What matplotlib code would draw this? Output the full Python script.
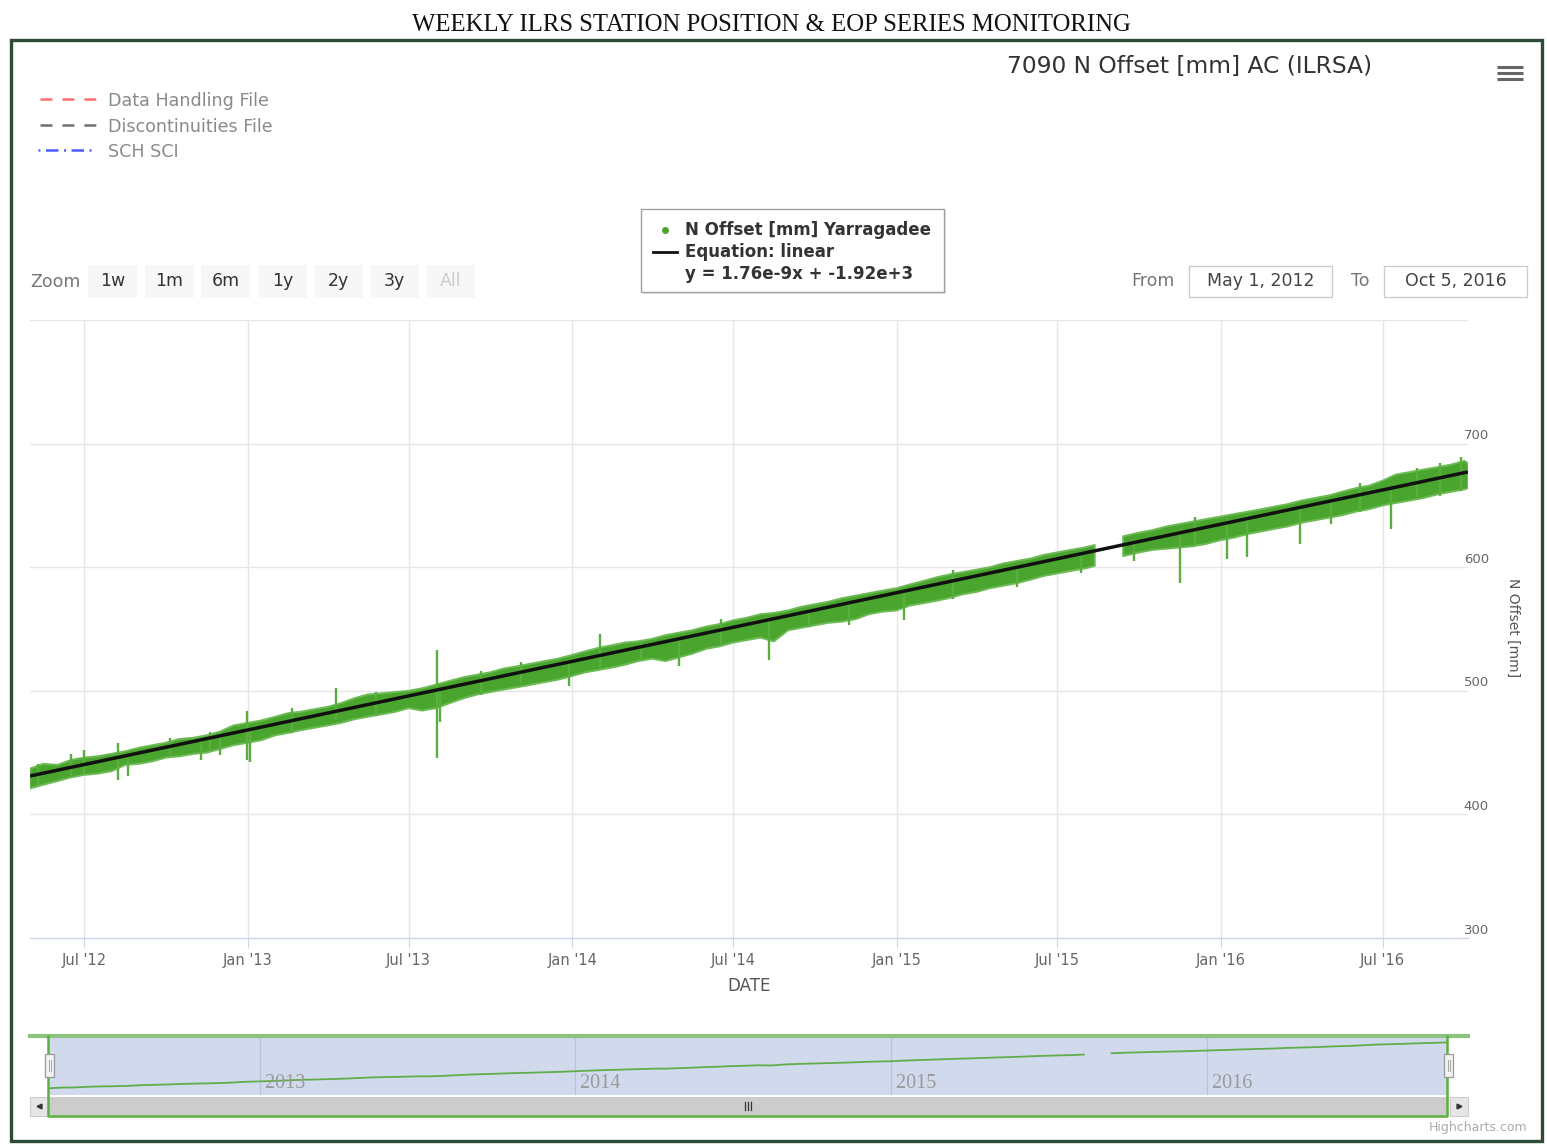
import matplotlib
matplotlib.use("Agg")
import matplotlib.pyplot as plt
import matplotlib.dates as mdates
import matplotlib.transforms as mtransforms
from matplotlib.patches import Rectangle
import numpy as np
import pandas as pd

plt.rcParams["lines.scale_dashes"] = False

# ---------------- data ----------------
page_title = "WEEKLY ILRS STATION POSITION & EOP SERIES MONITORING"
chart_title = "7090 N Offset [mm] AC (ILRSA)"
series_name = "N Offset [mm] Yarragadee"
fit_name = "Equation: linear"
fit_text = "y = 1.76e-9x + -1.92e+3"
fit_slope = 1.76e-9          # mm per millisecond
fit_intercept = -1.92e3      # mm

range_start = "2012-05-01"
range_end = "2016-10-05"

band_dates = [
    "2012-05-01", "2012-05-16", "2012-06-01", "2012-06-16", "2012-07-01", "2012-07-16",
    "2012-08-01", "2012-08-16", "2012-09-01", "2012-09-16", "2012-10-01", "2012-10-16",
    "2012-11-01", "2012-11-16", "2012-12-01", "2012-12-16",
    "2013-01-01", "2013-01-16", "2013-02-01", "2013-02-16", "2013-03-01", "2013-03-16",
    "2013-04-01", "2013-04-16", "2013-05-01", "2013-05-16", "2013-06-01", "2013-06-16",
    "2013-07-01", "2013-07-16", "2013-08-01", "2013-08-16", "2013-09-01", "2013-09-16",
    "2013-10-01", "2013-10-16", "2013-11-01", "2013-11-16", "2013-12-01", "2013-12-16",
    "2014-01-01", "2014-01-16", "2014-02-01", "2014-02-16", "2014-03-01", "2014-03-16",
    "2014-04-01", "2014-04-16", "2014-05-01", "2014-05-16", "2014-06-01", "2014-06-16",
    "2014-07-01", "2014-07-16", "2014-08-01", "2014-08-16", "2014-09-01", "2014-09-16",
    "2014-10-01", "2014-10-16", "2014-11-01", "2014-11-16", "2014-12-01", "2014-12-16",
    "2015-01-01", "2015-01-16", "2015-02-01", "2015-02-16", "2015-03-01", "2015-03-16",
    "2015-04-01", "2015-04-16", "2015-05-01", "2015-05-16", "2015-06-01", "2015-06-16",
    "2015-07-01", "2015-07-16", "2015-08-01", "2015-08-12", "2015-08-20", "2015-09-13",
    "2015-10-01", "2015-10-16", "2015-11-01", "2015-11-16", "2015-12-01", "2015-12-16",
    "2016-01-01", "2016-01-16", "2016-02-01", "2016-02-16", "2016-03-01", "2016-03-16",
    "2016-04-01", "2016-04-16", "2016-05-01", "2016-05-16", "2016-06-01", "2016-06-16",
    "2016-07-01", "2016-07-16", "2016-08-01", "2016-08-16", "2016-09-01", "2016-09-16",
    "2016-10-01", "2016-10-05",
]
nan = float("nan")
band_hi = [
    437, 441, 440, 444, 446, 447, 449, 451, 454, 456, 458, 461, 462, 464, 467, 472,
    474, 476, 479, 482, 483, 485, 487, 490, 494, 497, 498, 499, 500, 502, 505, 508,
    511, 513, 515, 518, 520, 522, 524, 526,
    529, 532, 535, 537, 539, 540, 542, 545, 547, 549, 552, 554, 557, 559, 562, 563,
    565, 568, 570, 572, 575, 577, 579, 581,
    583, 586, 589, 592, 594, 596, 598, 600, 603, 605, 607, 610, 612, 614, 616, 618,
    nan, 625, 628, 630, 633, 635, 637, 639,
    641, 643, 645, 647, 649, 651, 654, 656, 658, 661, 664, 666, 670, 675, 677, 679,
    681, 683, 686, 684,
]
band_lo = [
    421, 424, 427, 430, 432, 433, 435, 440, 441, 443, 446, 447, 449, 450, 453, 456,
    458, 460, 464, 466, 468, 470, 472, 474, 477, 479, 481, 483, 486, 484, 486, 490,
    494, 497, 499, 501, 503, 505, 507, 509,
    512, 515, 517, 519, 521, 524, 526, 524, 527, 530, 534, 536, 539, 541, 543, 540,
    549, 551, 553, 555, 556, 558, 562, 564,
    565, 569, 571, 573, 575, 578, 580, 583, 585, 587, 590, 593, 595, 597, 599, 601,
    nan, 609, 612, 614, 615, 616, 617, 619,
    622, 624, 627, 629, 631, 633, 636, 638, 640, 642, 645, 647, 650, 652, 654, 656,
    659, 661, 663, 664,
]

# short excursions of the daily solutions
spike_dates = [
    "2012-05-10", "2012-06-16", "2012-07-01", "2012-08-08", "2012-08-19", "2012-10-06",
    "2012-11-09", "2012-11-20", "2012-12-01", "2012-12-31", "2013-01-04", "2013-02-20",
    "2013-04-10", "2013-05-25", "2013-08-02", "2013-08-05", "2013-09-20", "2013-11-05",
    "2013-12-28", "2014-02-01", "2014-03-20", "2014-05-01", "2014-06-18", "2014-08-11",
    "2014-09-25", "2014-11-08", "2015-01-09", "2015-03-05", "2015-05-17", "2015-07-27",
    "2015-09-25", "2015-11-16", "2015-12-03", "2016-01-08", "2016-01-30", "2016-03-30",
    "2016-05-04", "2016-06-05", "2016-07-10", "2016-08-09", "2016-09-04", "2016-09-27",
]
spike_lo = [424, 430, 433, 428, 431, 448, 444, 452, 448, 444, 442, 466,
            476, 480, 446, 475, 497, 506, 504, 519, 525, 520, 538, 525,
            552, 553, 557, 574, 584, 595, 605, 587, 618, 607, 608, 619,
            635, 645, 631, 657, 658, 662]
spike_hi = [441, 449, 452, 458, 446, 462, 460, 467, 466, 484, 470, 486,
            502, 499, 533, 500, 516, 523, 524, 546, 540, 543, 558, 556,
            566, 572, 580, 598, 600, 612, 622, 628, 641, 640, 642, 648,
            654, 668, 662, 680, 684, 689]

y_ticks = [300, 400, 500, 600, 700, 800]
y_tick_labels = ["300", "400", "500", "600", "700", ""]
nav_years = ["2013", "2014", "2015", "2016"]

legend_items = ["Data Handling File", "Discontinuities File", "SCH SCI"]
zoom_buttons = ["1w", "1m", "6m", "1y", "2y", "3y", "All"]

# ---------------- figure ----------------
W, H = 1547, 1146
fig = plt.figure(figsize=(W / 100, H / 100), dpi=100)
fig.patch.set_facecolor("white")

ov = fig.add_axes([0, 0, 1, 1], zorder=0)
ov.set_xlim(0, W)
ov.set_ylim(H, 0)
ov.axis("off")


def px_axes(x0, y0, x1, y1, **kw):
    return fig.add_axes([x0 / W, 1 - y1 / H, (x1 - x0) / W, (y1 - y0) / H], **kw)


GREEN = "#4aa52e"

# page heading and frame
ov.text(771, 25, page_title, ha="center", va="center", fontsize=17.8,
        family="Liberation Serif", color="#111111")
ov.add_patch(Rectangle((11, 40), 1531, 1101, fill=False, ec="#2e4b36", lw=2.4))

# chart title and menu icon
ov.text(1190, 67, chart_title, ha="center", va="center", fontsize=16.8, color="#333333")
for yy in (67, 73, 79):
    ov.plot([1497, 1523], [yy, yy], color="#666666", lw=2.2, solid_capstyle="butt")

# top-left legend of auxiliary files
leg_y = [99, 125, 150]
ov.plot([40, 96], [leg_y[0]] * 2, color="#ff6f6f", lw=1.8, dashes=(8.6, 7.2))
ov.plot([40, 96], [leg_y[1]] * 2, color="#707070", lw=1.8, dashes=(8.6, 7.2))
ov.plot([38, 96], [leg_y[2]] * 2, color="#4b5cff", lw=1.8, dashes=(1.4, 4.0, 9.0, 4.0))
for yy, lab in zip(leg_y, legend_items):
    ov.text(108, yy + 2, lab, ha="left", va="center", fontsize=12.6, color="#8a8a8a")

# series legend box
ov.add_patch(Rectangle((643, 211), 303, 83, fc="#e8e8e8", ec="none"))
ov.add_patch(Rectangle((641, 209), 303, 83, fc="white", ec="#a0a0a0", lw=1.0))
ov.plot([665], [230], "o", color=GREEN, ms=4)
ov.plot([653, 677], [252, 252], color="#111111", lw=2.0)
for yy, lab in zip([230, 252, 274], [series_name, fit_name, fit_text]):
    ov.text(685, yy, lab, ha="left", va="center", fontsize=12, fontweight="bold",
            color="#333333")

# range selector
ov.text(30, 282, "Zoom", ha="left", va="center", fontsize=12.5, color="#777777")
btn_x = [88, 145, 201, 258, 314, 370, 426]
for x0, lab in zip(btn_x, zoom_buttons):
    ov.add_patch(Rectangle((x0, 265), 49, 33, fc="#f7f7f7", ec="none"))
    ov.text(x0 + 24.5, 281, lab, ha="center", va="center", fontsize=12.5,
            color="#cccccc" if lab == "All" else "#333333")

ov.text(1153, 281, "From", ha="center", va="center", fontsize=12.5, color="#777777")
ov.text(1360, 281, "To", ha="center", va="center", fontsize=12.5, color="#777777")
for x0, lab in [(1189, "May 1, 2012"), (1384, "Oct 5, 2016")]:
    ov.add_patch(Rectangle((x0, 266), 143, 31, fc="white", ec="#cccccc", lw=1.0))
    ov.text(x0 + 71.5, 281, lab, ha="center", va="center", fontsize=12.5, color="#444444")

# ---------------- main plot ----------------
t_band = pd.to_datetime(band_dates)
hi = np.array(band_hi, dtype=float)
lo = np.array(band_lo, dtype=float)
t_spk = pd.to_datetime(spike_dates)
t0, t1 = pd.Timestamp(range_start), pd.Timestamp(range_end)

ax = px_axes(30, 320, 1468, 938, zorder=2)
ax.set_facecolor("white")
ax.set_xlim(t0, t1)
ax.set_ylim(300, 800)

for v in y_ticks[1:]:
    ax.axhline(v, color="#e6e6e6", lw=1.0, zorder=0)
ax.xaxis.set_major_locator(mdates.MonthLocator(bymonth=[1, 7]))
ax.xaxis.set_major_formatter(mdates.DateFormatter("%b '%y"))
ax.grid(axis="x", color="#e6e6e6", lw=1.0)
ax.set_axisbelow(True)

ax.fill_between(t_band, lo, hi, color=GREEN, ec="#6dbb55", lw=1.4, zorder=2)
ax.vlines(t_spk, spike_lo, spike_hi, color="#5aae3e", lw=1.7, zorder=2)

ms = [(t - pd.Timestamp("1970-01-01")) / pd.Timedelta(milliseconds=1) for t in (t0, t1)]
ax.plot([t0, t1], [fit_slope * m + fit_intercept for m in ms], color="#111111",
        lw=2.5, zorder=3, solid_capstyle="butt")

for s in ("top", "left", "right"):
    ax.spines[s].set_visible(False)
ax.spines["bottom"].set_color("#ccd6eb")
ax.spines["bottom"].set_linewidth(1.0)
ax.tick_params(axis="x", colors="#ccd6eb", length=7, width=0.8, pad=4,
               labelsize=10.5, labelcolor="#666666")
ax.set_yticks(y_ticks)
ax.set_yticklabels([])
ax.tick_params(axis="y", length=0)
lift = mtransforms.ScaledTranslation(0, 8 / 100, fig.dpi_scale_trans)
for v, lab in zip(y_ticks, y_tick_labels):
    ax.text(0.997, v, lab, transform=ax.get_yaxis_transform() + lift,
            ha="left", va="center", fontsize=9.5, color="#666666")

ov.text(1513, 628, "N Offset [mm]", rotation=270, ha="center", va="center",
        fontsize=10, color="#555555")
ov.text(749, 986, "DATE", ha="center", va="center", fontsize=12, color="#555555")

# ---------------- navigator ----------------
nav = px_axes(48, 1037, 1447, 1095, zorder=2)
nav.set_facecolor("#d1daed")
nav.set_xlim(t0, t1)
nav.set_ylim(393, 704)
nav.set_xticks([])
nav.set_yticks([])
for s in nav.spines.values():
    s.set_visible(False)
for yr in nav_years:
    ty = pd.Timestamp(f"{yr}-01-01")
    nav.axvline(ty, color="#b9c2d6", lw=0.9)
    nav.text(ty, 0.2, " " + yr, transform=nav.get_xaxis_transform(), ha="left",
             va="center", fontsize=14.5, family="Liberation Serif", color="#9a9a9a")
nav.plot(t_band, (hi + lo) / 2, color="#62ad4a", lw=1.3)

# scrollbar
ov.add_patch(Rectangle((30, 1097), 1438, 19, fc="#f2f2f2", ec="none"))
ov.add_patch(Rectangle((48, 1097), 1399, 19, fc="#cccccc", ec="none"))
for x0 in (30, 1450):
    ov.add_patch(Rectangle((x0, 1097), 18, 19, fc="#e6e6e6", ec="#cccccc", lw=0.8))
ov.plot([39], [1106], marker="<", color="#333333", ms=3.5)
ov.plot([1459], [1106], marker=">", color="#333333", ms=3.5)
for xx in (745, 748, 751):
    ov.plot([xx, xx], [1102, 1110], color="#333333", lw=0.9)

# navigator outline and handles
ov.plot([30, 1468], [1036, 1036], color="#8cc47f", lw=3.0, zorder=3)
ov.plot([48, 48, 1447, 1447], [1036, 1116, 1116, 1036], color="#5cb040", lw=1.8, zorder=3)
for x0 in (45, 1444):
    ov.add_patch(Rectangle((x0, 1054), 9, 23, fc="#f2f2f2", ec="#999999", lw=0.9, zorder=4))
    for xx in (x0 + 3.5, x0 + 5.5):
        ov.plot([xx, xx], [1060, 1071], color="#999999", lw=0.6, zorder=5)

ov.text(1527, 1128, "Highcharts.com", ha="right", va="center", fontsize=9,
        color="#aaaaaa")

# overlay artists sit above the panels; its own background stays hidden
ov.set_zorder(3)
ov.patch.set_visible(False)

fig.savefig("out.png", dpi=100, facecolor="white")
